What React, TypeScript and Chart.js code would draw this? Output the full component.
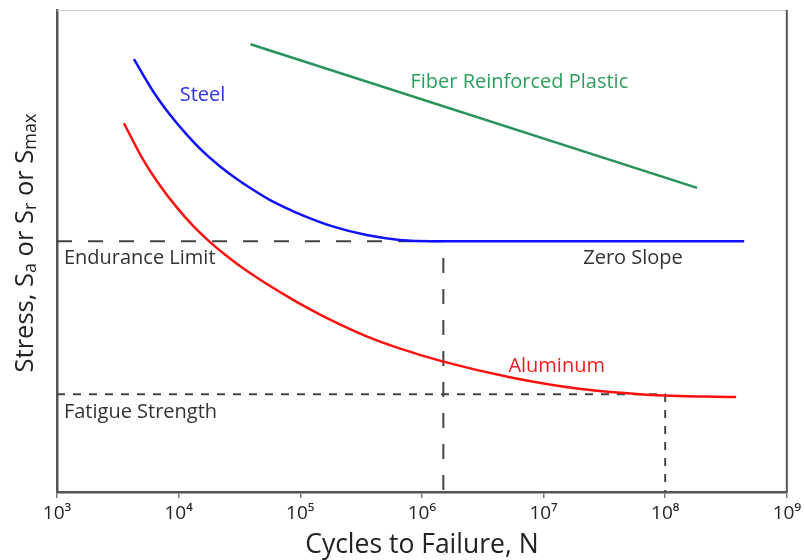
import React, { useEffect, useRef } from "react";
import { Chart, registerables } from "chart.js";

Chart.register(...registerables);

const FONT = "'Open Sans', 'Noto Sans', 'DejaVu Sans', sans-serif";

const xTickValues = [1e3, 1e4, 1e5, 1e6, 1e7, 1e8, 1e9];
const xTickLabels = ["10³", "10⁴", "10⁵", "10⁶", "10⁷", "10⁸", "10⁹"];

const steelCycles = [4290, 6180, 8470, 11610, 15890, 21790, 29860, 40900, 56100, 76900, 104600, 184500, 351000, 654400, 1220000, 2460000, 446000000];
const steelStress = [89.8, 83.1, 78.3, 74.2, 70.6, 67.6, 65.0, 62.7, 60.6, 58.9, 57.4, 55.1, 53.3, 52.3, 52.0, 52.0, 52.0];

const aluminumCycles = [3550, 5120, 7020, 9620, 13150, 18030, 24720, 33880, 46430, 76900, 98900, 184500, 351000, 654400, 1476000, 5540000, 19700000, 69800000, 383000000];
const aluminumStress = [76.5, 68.9, 63.6, 59.1, 55.2, 51.9, 49.0, 46.4, 44.1, 40.7, 39.1, 35.5, 32.3, 29.8, 27.1, 23.7, 21.4, 20.2, 19.7];

const frpCycles = [39000, 183000000];
const frpStress = [92.9, 63.1];

const enduranceCycles = [1000, 1500000, 1500000];
const enduranceStress = [52.0, 52.0, 0];

const fatigueCycles = [1000, 1e8, 1e8];
const fatigueStress = [20.3, 20.3, 0];

const labelTexts = ["Steel", "Fiber Reinforced Plastic", "Endurance Limit", "Zero Slope", "Aluminum", "Fatigue Strength"];
const labelCycles = [10200, 805000, 1140, 21200000, 5140000, 1140];
const labelStress = [82.2, 85.1, 48.5, 48.5, 26.1, 16.6];

const LABEL_COLORS = ["#3232ee", "#2e9e5e", "#333333", "#333333", "#f01e1e", "#333333"];

const zip = (xs: number[], ys: number[]) => xs.map((x, i) => ({ x, y: ys[i] }));

const overlayPlugin = {
  id: "overlay",
  beforeDatasetsDraw(chart: any) {
    const { ctx, chartArea: a } = chart;
    ctx.save();
    ctx.strokeStyle = "#cfcfcf";
    ctx.lineWidth = 1;
    ctx.beginPath();
    ctx.moveTo(a.left, a.top + 0.5);
    ctx.lineTo(a.right, a.top + 0.5);
    ctx.stroke();
    ctx.strokeStyle = "#555555";
    ctx.lineWidth = 2;
    ctx.beginPath();
    ctx.moveTo(a.right, a.top);
    ctx.lineTo(a.right, a.bottom);
    ctx.stroke();
    ctx.restore();
  },
  afterDraw(chart: any) {
    const { ctx } = chart;
    const xs = chart.scales.x;
    const ys = chart.scales.y;
    ctx.save();
    ctx.font = `20px ${FONT}`;
    ctx.textBaseline = "middle";
    ctx.textAlign = "left";
    labelTexts.forEach((t, i) => {
      ctx.fillStyle = LABEL_COLORS[i];
      ctx.fillText(t, xs.getPixelForValue(labelCycles[i]), ys.getPixelForValue(labelStress[i]));
    });
    ctx.restore();

    // rotated y-axis title with subscripts
    const parts: [string, boolean][] = [
      ["Stress, S", false],
      ["a", true],
      [" or S", false],
      ["r", true],
      [" or S", false],
      ["max", true],
    ];
    const mainFont = `25.5px ${FONT}`;
    const subFont = `18px ${FONT}`;
    ctx.save();
    let total = 0;
    parts.forEach(([t, sub]) => {
      ctx.font = sub ? subFont : mainFont;
      total += ctx.measureText(t).width;
    });
    ctx.translate(24, 243);
    ctx.rotate(-Math.PI / 2);
    ctx.fillStyle = "#222222";
    ctx.textBaseline = "alphabetic";
    ctx.textAlign = "left";
    let x = -total / 2;
    parts.forEach(([t, sub]) => {
      ctx.font = sub ? subFont : mainFont;
      ctx.fillText(t, x, sub ? 12 : 9);
      x += ctx.measureText(t).width;
    });
    ctx.restore();
  },
};

export default function App() {
  const ref = useRef<HTMLCanvasElement | null>(null);
  useEffect(() => {
    if (!ref.current) return;
    const chart = new Chart(ref.current, {
      type: "line",
      data: {
        datasets: [
          {
            label: "Steel",
            data: zip(steelCycles, steelStress),
            borderColor: "#1010ff",
            borderWidth: 2.5,
            pointRadius: 0,
            cubicInterpolationMode: "monotone",
          },
          {
            label: "Aluminum",
            data: zip(aluminumCycles, aluminumStress),
            borderColor: "#ff1010",
            borderWidth: 2.5,
            pointRadius: 0,
            cubicInterpolationMode: "monotone",
          },
          {
            label: "Fiber Reinforced Plastic",
            data: zip(frpCycles, frpStress),
            borderColor: "#27935a",
            borderWidth: 2.5,
            pointRadius: 0,
          },
          {
            label: "Endurance Limit",
            data: zip(enduranceCycles, enduranceStress),
            borderColor: "#444444",
            borderWidth: 2,
            borderDash: [15, 16],
            pointRadius: 0,
          },
          {
            label: "Fatigue Strength",
            data: zip(fatigueCycles, fatigueStress),
            borderColor: "#444444",
            borderWidth: 2,
            borderDash: [8, 8],
            pointRadius: 0,
          },
        ],
      },
      options: {
        animation: false,
        responsive: true,
        maintainAspectRatio: false,
        layout: { padding: { top: 10, right: 17, left: 0, bottom: 0 } },
        plugins: {
          legend: { display: false },
          tooltip: { enabled: false },
        },
        scales: {
          x: {
            type: "logarithmic",
            min: 1e3,
            max: 1e9,
            afterBuildTicks: (scale: any) => {
              scale.ticks = xTickValues.map((v) => ({ value: v, major: true }));
            },
            afterFit: (scale: any) => {
              scale.height = 68;
            },
            ticks: {
              autoSkip: false,
              maxRotation: 0,
              padding: 4,
              color: "#222222",
              font: { family: FONT, size: 19 },
              callback: (_v: any, i: number) => xTickLabels[i],
            },
            grid: {
              display: true,
              drawOnChartArea: false,
              drawTicks: true,
              tickLength: 6,
              color: "#777777",
              lineWidth: 1.5,
            },
            border: { display: true, color: "#555555", width: 2.5 },
            title: {
              display: true,
              text: "Cycles to Failure, N",
              color: "#222222",
              font: { family: FONT, size: 26.5, lineHeight: 1.0 },
              padding: { top: 0, bottom: 1 },
            },
          },
          y: {
            type: "linear",
            min: 0,
            max: 100,
            afterFit: (scale: any) => {
              scale.width = 57;
            },
            ticks: { display: false },
            grid: { display: false, drawTicks: false },
            border: { display: true, color: "#555555", width: 2.5 },
          },
        },
      },
      plugins: [overlayPlugin],
    } as any);
    return () => chart.destroy();
  }, []);
  return (
    <div style={{ position: "absolute", left: 0, top: 0, width: 805, height: 560, background: "#ffffff" }}>
      <canvas ref={ref} />
    </div>
  );
}
